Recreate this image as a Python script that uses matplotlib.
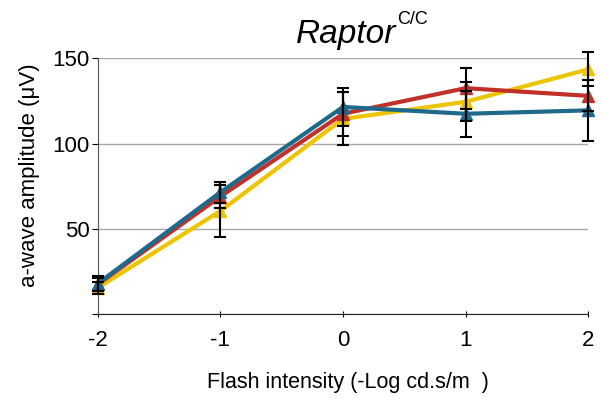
import numpy as np
import matplotlib
matplotlib.use("Agg")
import matplotlib.pyplot as plt

plt.rcParams['font.family'] = ['Liberation Sans', 'DejaVu Sans']

# flash intensities (-Log cd.s/m2)
intensity = [-2, -1, 0, 1, 2]

# a-wave amplitudes (uV) and error bars
yellow_amp = [15.5, 60.5, 114.5, 124.5, 143.5]
yellow_err = [3.5, 15.0, 15.5, 11.5, 10.0]
red_amp = [17.5, 69.0, 117.5, 132.5, 128.0]
red_err = [4.0, 6.5, 13.0, 12.0, 9.0]
blue_amp = [18.0, 71.5, 121.5, 117.5, 119.5]
blue_err = [4.5, 6.0, 11.0, 13.5, 18.0]

series = [
    (yellow_amp, yellow_err, "#ecc400"),
    (red_amp, red_err, "#c1312a"),
    (blue_amp, blue_err, "#1f6a8a"),
]

fig = plt.figure(figsize=(6.02, 3.98), dpi=100)
ax = fig.add_axes([0.1623, 0.2103, 0.8149, 0.6432])

for amp, err, col in series:
    ax.errorbar(intensity, amp, yerr=err, fmt="none", ecolor="black",
                elinewidth=1.5, capsize=4, capthick=1.5, clip_on=False, zorder=4)
for amp, err, col in series:
    ax.plot(intensity, amp, color=col, lw=3, marker="^", markersize=8,
            clip_on=False, zorder=3)

ax.set_xlim(-2, 2)
ax.set_ylim(0, 150)
ax.set_xticks(intensity)
ax.set_xticklabels(["-2", "-1", "0", "1", "2"])
ax.set_yticks([0, 50, 100, 150])
ax.set_yticklabels(["", "50", "100", "150"])
ax.yaxis.grid(True, color="#a8a8a8", lw=1)
ax.set_axisbelow(True)

for s in ["top", "right"]:
    ax.spines[s].set_visible(False)
ax.spines["left"].set_color("#555555")
ax.spines["bottom"].set_color("#222222")
ax.tick_params(axis="x", direction="inout", length=5, labelsize=16, pad=9)
ax.tick_params(axis="y", direction="out", length=4, labelsize=16, pad=2)

ax.set_xlabel("Flash intensity (-Log cd.s/m  )", fontsize=15.5, va="center")
ax.xaxis.set_label_coords(0.51, -0.268)
ax.set_ylabel("a-wave amplitude (\u03bcV)", fontsize=16, va="center")
ax.yaxis.set_label_coords(-0.14, 0.544)

fig.text(296 / 602, 1 - 42.7 / 398, "Raptor", fontsize=24, style="italic",
         ha="left", va="baseline")
fig.text(397 / 602, 1 - 24 / 398, "C/C", fontsize=13,
         ha="left", va="baseline")

fig.savefig("out.png", dpi=100)
